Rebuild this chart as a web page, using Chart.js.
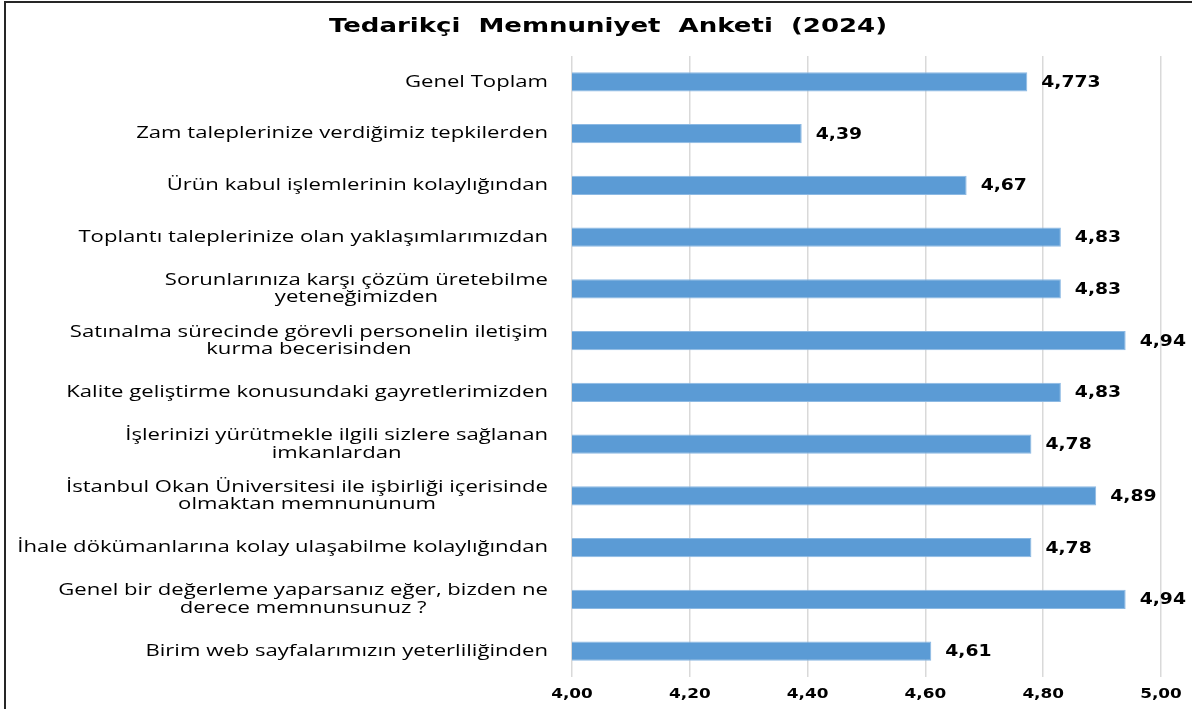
<!DOCTYPE html>
<html lang="tr">
<head>
    <meta charset="UTF-8">
    <title>Tedarikçi Memnuniyet Anketi (2024)</title>
    <script src="https://cdn.jsdelivr.net/npm/chart.js"></script>
    <style>
        html, body { margin: 0; padding: 0; background: #fff; overflow: hidden; }
        #wrap { width: 1192px; height: 709px; }
    </style>
</head>
<body>
    <div id="wrap"><canvas id="myChart"></canvas></div>
    <script>
        // anket maddeleri (yukaridan asagiya)
        const labels = [
            'Genel Toplam',
            'Zam taleplerinize verdiğimiz tepkilerden',
            'Ürün kabul işlemlerinin kolaylığından',
            'Toplantı taleplerinize olan yaklaşımlarımızdan',
            ['Sorunlarınıza karşı çözüm üretebilme', 'yeteneğimizden'],
            ['Satınalma sürecinde görevli personelin iletişim', 'kurma becerisinden'],
            'Kalite geliştirme konusundaki gayretlerimizden',
            ['İşlerinizi yürütmekle ilgili sizlere sağlanan', 'imkanlardan'],
            ['İstanbul Okan Üniversitesi ile işbirliği içerisinde', 'olmaktan memnununum'],
            'İhale dökümanlarına kolay ulaşabilme kolaylığından',
            ['Genel bir değerleme yaparsanız eğer, bizden ne', 'derece memnunsunuz ?'],
            'Birim web sayfalarımızın yeterliliğinden'
        ];

        // ortalama puanlar
        const scores = [4.773, 4.39, 4.67, 4.83, 4.83, 4.94, 4.83, 4.78, 4.89, 4.78, 4.94, 4.61];

        // x ekseni
        const axisMin = 4.0;
        const axisMax = 5.0;
        const axisStep = 0.2;

        const chartTitle = 'Tedarikçi  Memnuniyet  Anketi  (2024)';

        const comma = v => String(v).replace('.', ',');

        // yatayda biraz genisletilmis yazi
        function wideText(ctx, text, x, y, align, sx) {
            const w = ctx.measureText(text).width * sx;
            let left = x;
            if (align === 'right') left = x - w;
            if (align === 'center') left = x - w / 2;
            ctx.save();
            ctx.translate(left, y);
            ctx.scale(sx, 1);
            ctx.textAlign = 'left';
            ctx.fillText(text, 0, 0);
            ctx.restore();
        }

        const textPlugin = {
            id: 'textPlugin',
            beforeDraw(chart) {
                const ctx = chart.ctx;
                ctx.save();
                ctx.strokeStyle = '#262626';
                ctx.lineWidth = 2;
                ctx.strokeRect(5, 2, 1400, 900);
                ctx.restore();
            },
            afterDraw(chart) {
                const ctx = chart.ctx;
                const xs = chart.scales.x;
                const ys = chart.scales.y;
                const area = chart.chartArea;
                ctx.save();
                ctx.textBaseline = 'middle';
                ctx.fillStyle = '#000';

                // baslik
                ctx.font = 'bold 20px "DejaVu Sans"';
                wideText(ctx, chartTitle, 608, 27, 'center', 1.3);

                // kategori etiketleri
                ctx.font = '17px "Open Sans"';
                ctx.fillStyle = '#000';
                labels.forEach((lab, i) => {
                    const lines = Array.isArray(lab) ? lab : [lab];
                    const y = ys.getPixelForValue(i);
                    const sx = 1.3;
                    const maxW = Math.max(...lines.map(l => ctx.measureText(l).width)) * sx;
                    const cx = area.left - 24 - maxW / 2;
                    lines.forEach((l, k) => {
                        const ly = y + (k - (lines.length - 1) / 2) * 17.5;
                        wideText(ctx, l, cx, ly, 'center', sx);
                    });
                });

                // deger etiketleri
                ctx.font = 'bold 15px "DejaVu Sans"';
                const meta = chart.getDatasetMeta(0);
                meta.data.forEach((bar, i) => {
                    wideText(ctx, comma(scores[i]), bar.x + 14, bar.y + 1, 'left', 1.25);
                });

                // x ekseni etiketleri
                ctx.font = 'bold 13.5px "DejaVu Sans"';
                for (let v = axisMin; v <= axisMax + 1e-9; v += axisStep) {
                    const px = xs.getPixelForValue(v);
                    wideText(ctx, v.toFixed(2).replace('.', ','), px, area.bottom + 17, 'center', 1.25);
                }
                ctx.restore();
            }
        };

        const ctx = document.getElementById('myChart').getContext('2d');

        const config = {
            type: 'bar',
            data: {
                labels: labels,
                datasets: [{
                    data: scores,
                    backgroundColor: '#5b9bd5',
                    borderColor: '#8cb9e3',
                    borderWidth: 1,
                    barPercentage: 0.37,
                    categoryPercentage: 1.0
                }]
            },
            options: {
                indexAxis: 'y',
                responsive: true,
                maintainAspectRatio: false,
                animation: false,
                layout: {
                    padding: { left: 572, right: 31, top: 56, bottom: 32 }
                },
                plugins: {
                    legend: { display: false },
                    title: { display: false },
                    tooltip: { enabled: false }
                },
                scales: {
                    x: {
                        min: axisMin,
                        max: axisMax,
                        ticks: { display: false, stepSize: axisStep },
                        grid: { color: '#d9d9d9', lineWidth: 1.5, drawTicks: false },
                        border: { display: false },
                        afterFit(scale) { scale.height = 0; }
                    },
                    y: {
                        ticks: { display: false },
                        grid: { display: false, drawTicks: false },
                        border: { display: false },
                        afterFit(scale) { scale.width = 0; }
                    }
                }
            },
            plugins: [textPlugin]
        };

        new Chart(ctx, config);
    </script>
</body>
</html>
